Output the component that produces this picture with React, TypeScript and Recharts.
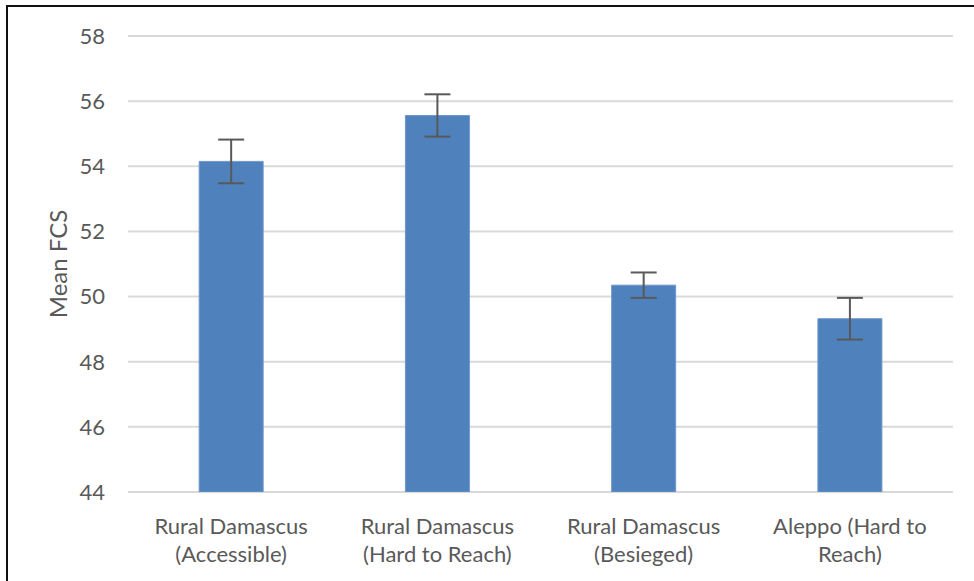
import React from 'react';
import { BarChart, Bar, XAxis, YAxis, CartesianGrid, ErrorBar, Label } from 'recharts';

const categoryLine1 = ['Rural Damascus', 'Rural Damascus', 'Rural Damascus', 'Aleppo (Hard to'];
const categoryLine2 = ['(Accessible)', '(Hard to Reach)', '(Besieged)', 'Reach)'];
const meanFCS = [54.15, 55.56, 50.35, 49.32];
const errorFCS = [0.67, 0.65, 0.39, 0.64];
const yTicks = [44, 46, 48, 50, 52, 54, 56, 58];

const data = categoryLine1.map((c, i) => ({
  name: c + ' ' + categoryLine2[i],
  idx: i,
  mean: meanFCS[i],
  err: errorFCS[i],
}));

const FONT = 'Lato, "Open Sans", sans-serif';
const TEXT = '#595959';

const XTick = (props: any) => {
  const { x, y, index } = props;
  return (
    <g>
      <text x={x} y={y + 42} textAnchor="middle" fill={TEXT} fontSize={22} fontFamily={FONT}>
        {categoryLine1[index]}
      </text>
      <text x={x} y={y + 70} textAnchor="middle" fill={TEXT} fontSize={22} fontFamily={FONT}>
        {categoryLine2[index]}
      </text>
    </g>
  );
};

const YTick = (props: any) => {
  const { y, payload } = props;
  return (
    <text x={105} y={y} dy="0.36em" textAnchor="end" fill={TEXT} fontSize={22} fontFamily={FONT}>
      {payload.value}
    </text>
  );
};

const YLabel = () => (
  <text
    x={57}
    y={264}
    transform="rotate(-90, 57, 264)"
    textAnchor="middle"
    dominantBaseline="central"
    fill={TEXT}
    fontSize={24}
    fontFamily={FONT}
  >
    Mean FCS
  </text>
);

export default function App() {
  return (
    <div style={{ position: 'absolute', left: 0, top: 0, width: 974, height: 581, background: '#fff', overflow: 'hidden' }}>
      <BarChart
        width={974}
        height={581}
        data={data}
        margin={{ top: 36, right: 21, bottom: 0, left: 0 }}
        barCategoryGap="34.5%"
      >
        <CartesianGrid vertical={false} stroke="#d9d9d9" strokeWidth={2} />
        <XAxis
          dataKey="name"
          axisLine={false}
          tickLine={false}
          tickSize={0}
          tickMargin={0}
          height={89}
          interval={0}
          tick={<XTick />}
        />
        <YAxis
          width={128}
          domain={[44, 58]}
          ticks={yTicks}
          allowDataOverflow
          axisLine={false}
          tickLine={false}
          tick={<YTick />}
        >
          <Label content={<YLabel />} />
        </YAxis>
        <Bar dataKey="mean" fill="#4f81bd" stroke="#6f97cb" strokeWidth={1} isAnimationActive={false}>
          <ErrorBar dataKey="err" width={13} stroke="#595959" strokeWidth={2} direction="y" />
        </Bar>
      </BarChart>
      <div
        style={{
          position: 'absolute',
          left: 6,
          top: 5,
          right: -10,
          bottom: -10,
          borderTop: '2px solid #111',
          borderLeft: '2px solid #111',
          pointerEvents: 'none',
        }}
      />
    </div>
  );
}
